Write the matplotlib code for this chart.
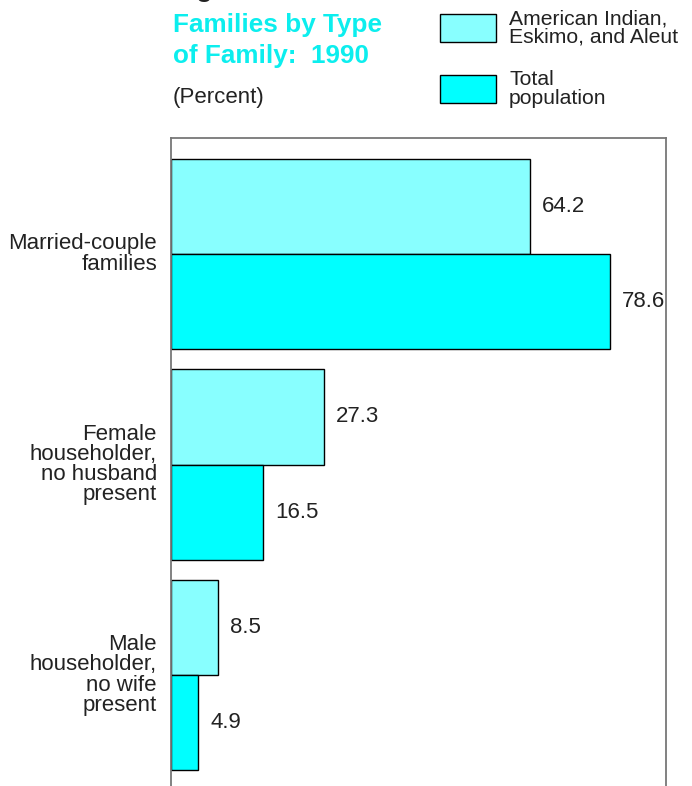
import matplotlib
matplotlib.use("Agg")
import matplotlib.pyplot as plt
from matplotlib.patches import Rectangle
import numpy as np

plt.rcParams['font.family'] = ['Liberation Sans', 'DejaVu Sans']

categories = ["Married-couple\nfamilies",
              "Female\nhouseholder,\nno husband\npresent",
              "Male\nhouseholder,\nno wife\npresent"]
aian = [64.2, 27.3, 8.5]
total = [78.6, 16.5, 4.9]
series_names = ["American Indian,\nEskimo, and Aleut", "Total\npopulation"]
title_lines = ["Families by Type", "of Family:  1990"]

c_aian = "#88FFFF"
c_total = "#00FFFF"
c_title = "#0CEEEE"
c_text = "#222222"

W, H = 692, 786
fig = plt.figure(figsize=(W / 100, H / 100), dpi=100)

# main axes (frame runs past the bottom edge)
ax_left, ax_right, ax_top = 171, 666, 138
ax = fig.add_axes([ax_left / W, 0, (ax_right - ax_left) / W, 1 - ax_top / H])
ax.set_xlim(0, 88.6)
ax.set_ylim(2.527, -0.551)
for s in ax.spines.values():
    s.set_color("#777777")
    s.set_linewidth(1.3)
ax.spines['bottom'].set_visible(False)
ax.set_xticks([])
ax.set_yticks([])

y = np.arange(len(categories))
h = 0.452
ax.barh(y - h / 2, aian, height=h, color=c_aian, edgecolor="black", linewidth=1.0)
ax.barh(y + h / 2, total, height=h, color=c_total, edgecolor="black", linewidth=1.0)

fs = 16
for i in range(len(categories)):
    ax.annotate(f"{aian[i]:.1f}", (aian[i], y[i] - h / 2), xytext=(12, 0),
                textcoords="offset pixels", va="center", ha="left",
                fontsize=fs, color=c_text)
    ax.annotate(f"{total[i]:.1f}", (total[i], y[i] + h / 2), xytext=(12, 0),
                textcoords="offset pixels", va="center", ha="left",
                fontsize=fs, color=c_text)
    ax.annotate(categories[i], (0, y[i]), xytext=(-14, 0),
                textcoords="offset pixels", va="center", ha="right",
                fontsize=fs, color=c_text, linespacing=0.95,
                annotation_clip=False)

# heading (the figure number line sits above the top edge)
fig.text(173 / W, 1 - (-3) / H, "Figure", fontsize=18.8, fontweight="bold",
         color=c_text, ha="left", va="baseline")
for line, base in zip(title_lines, [32, 63]):
    fig.text(173 / W, 1 - base / H, line, fontsize=18.8, fontweight="bold",
             color=c_title, ha="left", va="baseline")
fig.text(173 / W, 1 - 98 / H, "(Percent)", fontsize=fs, color=c_text,
         ha="left", va="center")

# legend
for (top, col, name) in [(14, c_aian, series_names[0]), (75, c_total, series_names[1])]:
    fig.patches.append(Rectangle((440 / W, 1 - (top + 28) / H), 56 / W, 28 / H,
                                 transform=fig.transFigure, facecolor=col,
                                 edgecolor="black", linewidth=1.0))
    fig.text(509 / W, 1 - (top + 14) / H, name, fontsize=15.2, color=c_text,
             ha="left", va="center", linespacing=0.95)

fig.savefig("out.png", dpi=100)
